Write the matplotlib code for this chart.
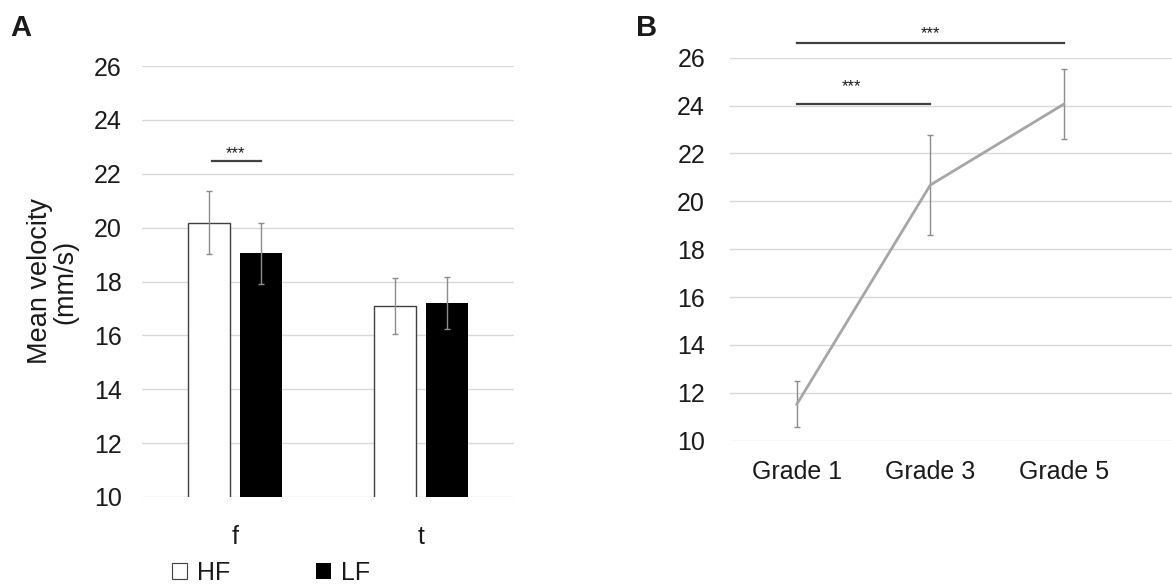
import numpy as np
import matplotlib
matplotlib.use("Agg")
import matplotlib.pyplot as plt
from matplotlib.patches import Patch

plt.rcParams["font.family"] = ["Liberation Sans", "DejaVu Sans"]

# panel A: mean velocity by condition
conditions = ["f", "t"]
hf_mean = [20.19, 17.09]
hf_err = [1.18, 1.05]
lf_mean = [19.04, 17.20]
lf_err = [1.12, 0.98]

# panel B: mean velocity by grade
grades = ["Grade 1", "Grade 3", "Grade 5"]
grade_mean = [11.52, 20.68, 24.06]
grade_err = [0.96, 2.10, 1.45]

y_ticks = [10, 12, 14, 16, 18, 20, 22, 24, 26]

W, H = 1172, 587
TXT = "#1a1a1a"
GRID = "#d9d9d9"
ERR = "#8c8c8c"


def px_axes(fig, x0, x1, ytop, ybot):
    return fig.add_axes([x0 / W, 1 - ybot / H, (x1 - x0) / W, (ybot - ytop) / H])


def style(ax, ypad, xpad):
    ax.set_ylim(10, 26)
    ax.set_yticks(y_ticks)
    ax.yaxis.grid(True, color=GRID, lw=1)
    ax.set_axisbelow(True)
    for s in ax.spines.values():
        s.set_visible(False)
    ax.tick_params(axis="y", length=0, pad=ypad, labelsize=18, labelcolor=TXT)
    ax.tick_params(axis="x", length=0, pad=xpad, labelsize=18, labelcolor=TXT)


fig = plt.figure(figsize=(W / 100, H / 100), dpi=100)

# ---- A ----
axA = px_axes(fig, 142, 514, 66, 497)
x = np.arange(len(conditions))
off, bw = 0.14, 0.226
ekw = dict(ecolor=ERR, elinewidth=1, capsize=2.5, capthick=1)
axA.bar(x - off, hf_mean, bw, color="white", edgecolor="#404040",
        linewidth=1, yerr=hf_err, error_kw=ekw)
axA.bar(x + off, lf_mean, bw, color="black", yerr=lf_err, error_kw=ekw)
axA.set_xlim(-0.5, 1.5)
axA.set_xticks(x)
axA.set_xticklabels(conditions)
style(axA, 14.5, 20)
axA.set_ylabel("Mean velocity\n(mm/s)", fontsize=19.5, color=TXT, labelpad=11,
               linespacing=1.0)
axA.plot([-0.125, 0.14], [22.48, 22.48], color="#404040", lw=1.6)
axA.text(0.0, 22.75, "***", ha="center", va="center", fontsize=12, color=TXT)

fig.legend(handles=[Patch(facecolor="white", edgecolor="#404040", lw=0.8),
                    Patch(facecolor="black")],
           labels=["HF", "LF"], ncol=2, loc="center",
           bbox_to_anchor=(271 / W, 1 - 573 / H), frameon=False,
           fontsize=18, handlelength=0.6, handleheight=0.6,
           handletextpad=0.4, columnspacing=3.4, labelcolor=TXT)

# ---- B ----
axB = px_axes(fig, 730, 1172, 57.7, 440.7)
xg = np.arange(len(grades))
axB.errorbar(xg, grade_mean, yerr=grade_err, color="#a6a6a6", lw=2,
             ecolor=ERR, elinewidth=1, capsize=2.5, capthick=1)
axB.set_xlim(-0.5, 2.81)
axB.set_xticks(xg)
axB.set_xticklabels(grades)
style(axB, 18, 14)
axB.plot([0, 2], [26.6, 26.6], color="#404040", lw=1.6, clip_on=False)
axB.text(1.0, 27.0, "***", ha="center", va="center", fontsize=12, color=TXT)
axB.plot([0, 1], [24.05, 24.05], color="#404040", lw=1.6)
axB.text(0.41, 24.8, "***", ha="center", va="center", fontsize=12, color=TXT)

fig.text(10 / W, 1 - 28 / H, "A", fontsize=21, fontweight="bold", va="center", color=TXT)
fig.text(636 / W, 1 - 28 / H, "B", fontsize=21, fontweight="bold", va="center", color=TXT)

fig.savefig("out.png", dpi=100, facecolor="white")
